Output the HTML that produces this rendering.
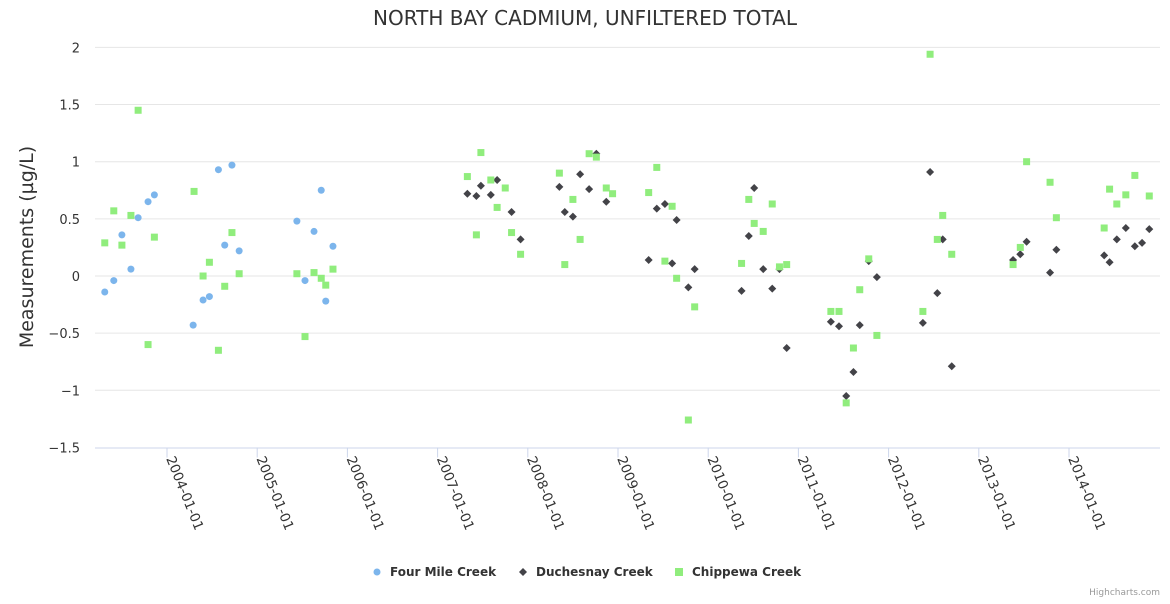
<!DOCTYPE html>
<html><head><meta charset="utf-8"><style>
body{margin:0;background:#fff;font-family:"DejaVu Sans",sans-serif}
svg text{font-family:"DejaVu Sans",sans-serif}
</style></head><body>
<svg id="c" width="1170" height="600">
<text x="585" y="25" text-anchor="middle" font-size="20" fill="#333">NORTH BAY CADMIUM, UNFILTERED TOTAL</text>
<text transform="translate(33,247) rotate(-90)" text-anchor="middle" font-size="19" fill="#333">Measurements (µg/L)</text>
<g id="grid"></g><g id="xax"></g><g id="marks"></g>
<g>
<g><circle cx="377" cy="572" r="3.5" fill="#7cb5ec"/><text x="390" y="576" font-size="12" font-weight="bold" fill="#333">Four Mile Creek</text></g>
<g><path d="M523 568 L527 572 L523 576 L519 572Z" fill="#434348"/><text x="536" y="576" font-size="12" font-weight="bold" fill="#333">Duchesnay Creek</text></g>
<g><rect x="675" y="568" width="8" height="8" fill="#90ed7d"/><text x="692" y="576" font-size="12" font-weight="bold" fill="#333">Chippewa Creek</text></g>
</g>
<text x="1160" y="595" text-anchor="end" font-size="9" fill="#999">Highcharts.com</text>
</svg>
<script>
const yTicks=[-1.5,-1,-0.5,0,0.5,1,1.5,2];
const yTickLabels=["−1.5","−1","−0.5","0","0.5","1","1.5","2"];
const xTicks=[2004,2005,2006,2007,2008,2009,2010,2011,2012,2013,2014];
const xTickLabels=["2004-01-01","2005-01-01","2006-01-01","2007-01-01","2008-01-01","2009-01-01","2010-01-01","2011-01-01","2012-01-01","2013-01-01","2014-01-01"];
const fourMileDates=[2003.31,2003.41,2003.50,2003.60,2003.68,2003.79,2003.86,2004.29,2004.40,2004.47,2004.57,2004.64,2004.72,2004.80,2005.44,2005.53,2005.63,2005.71,2005.76,2005.84];
const fourMileValues=[-0.14,-0.04,0.36,0.06,0.51,0.65,0.71,-0.43,-0.21,-0.18,0.93,0.27,0.97,0.22,0.48,-0.04,0.39,0.75,-0.22,0.26];
const duchDates=[2007.33,2007.43,2007.48,2007.59,2007.66,2007.82,2007.92,2008.35,2008.41,2008.50,2008.58,2008.68,2008.76,2008.87,2009.34,2009.43,2009.52,2009.60,2009.65,2009.78,2009.85,2010.37,2010.45,2010.51,2010.61,2010.71,2010.79,2010.87,2011.36,2011.45,2011.53,2011.61,2011.68,2011.78,2011.87,2012.38,2012.46,2012.54,2012.60,2012.70,2013.38,2013.46,2013.53,2013.79,2013.86,2014.39,2014.45,2014.53,2014.63,2014.73,2014.81,2014.89];
const duchValues=[0.72,0.70,0.79,0.71,0.84,0.56,0.32,0.78,0.56,0.52,0.89,0.76,1.07,0.65,0.14,0.59,0.63,0.11,0.49,-0.10,0.06,-0.13,0.35,0.77,0.06,-0.11,0.06,-0.63,-0.40,-0.44,-1.05,-0.84,-0.43,0.13,-0.01,-0.41,0.91,-0.15,0.32,-0.79,0.14,0.19,0.30,0.03,0.23,0.18,0.12,0.32,0.42,0.26,0.29,0.41];
const chipDates=[2003.31,2003.41,2003.50,2003.60,2003.68,2003.79,2003.86,2004.30,2004.40,2004.47,2004.57,2004.64,2004.72,2004.80,2005.44,2005.53,2005.63,2005.71,2005.76,2005.84,2007.33,2007.48,2007.43,2007.59,2007.75,2007.66,2007.82,2007.92,2008.35,2008.41,2008.50,2008.58,2008.68,2008.76,2008.87,2008.94,2009.43,2009.34,2009.52,2009.60,2009.65,2009.78,2009.85,2010.37,2010.45,2010.51,2010.61,2010.71,2010.79,2010.87,2011.36,2011.45,2011.53,2011.61,2011.68,2011.78,2011.87,2012.38,2012.46,2012.54,2012.60,2012.70,2013.38,2013.46,2013.53,2013.79,2013.86,2014.39,2014.45,2014.53,2014.63,2014.73,2014.89];
const chipValues=[0.29,0.57,0.27,0.53,1.45,-0.60,0.34,0.74,0.00,0.12,-0.65,-0.09,0.38,0.02,0.02,-0.53,0.03,-0.02,-0.08,0.06,0.87,1.08,0.36,0.84,0.77,0.60,0.38,0.19,0.90,0.10,0.67,0.32,1.07,1.04,0.77,0.72,0.95,0.73,0.13,0.61,-0.02,-1.26,-0.27,0.11,0.67,0.46,0.39,0.63,0.08,0.10,-0.31,-0.31,-1.11,-0.63,-0.12,0.15,-0.52,-0.31,1.94,0.32,0.53,0.19,0.10,0.25,1.00,0.82,0.51,0.42,0.76,0.63,0.71,0.88,0.70];
const NS="http://www.w3.org/2000/svg";
const X0=95,X1=1160;
function xS(yr){return 167+(yr-2004)*90.2;}
function yS(v){return 276-v*114.3;}
function mk(t,a,p){const e=document.createElementNS(NS,t);for(const k in a)e.setAttribute(k,a[k]);p.appendChild(e);return e;}
const grid=document.getElementById('grid'),xax=document.getElementById('xax'),marks=document.getElementById('marks');
yTicks.forEach((v,i)=>{
 if(v!==-1.5){const l=mk('line',{x1:X0,x2:X1,y1:yS(v),y2:yS(v),stroke:'#e6e6e6'},grid);
 
 }
 const t=mk('text',{x:80,y:yS(v)+5,'text-anchor':'end','font-size':13,fill:'#333'},grid);
 t.textContent=yTickLabels[i];
 
 
});
const ax=mk('line',{x1:X0,x2:X1,y1:yS(-1.5)+0.5,y2:yS(-1.5)+0.5,stroke:'#ccd6eb'},xax);


xTicks.forEach((yr,i)=>{
 const x=xS(yr);
 const tk=mk('line',{x1:x,x2:x,y1:yS(-1.5),y2:yS(-1.5)+10,stroke:'#ccd6eb'},xax);
 
 
 const t=mk('text',{transform:`translate(${x-1},${yS(-1.5)+11}) rotate(68)`,'font-size':13.5,fill:'#333'},xax);
 t.textContent=xTickLabels[i];
 
 
});
fourMileDates.forEach((d,i)=>{
 const c=mk('circle',{cx:xS(d),cy:yS(fourMileValues[i]),r:3.5,fill:'#7cb5ec'},marks);
 
 
});
duchDates.forEach((d,i)=>{
 const x=xS(d),y=yS(duchValues[i]);
 const p=mk('path',{d:`M${x} ${y-4}L${x+4} ${y}L${x} ${y+4}L${x-4} ${y}Z`,fill:'#434348'},marks);
 
 
});
chipDates.forEach((d,i)=>{
 const r=mk('rect',{x:xS(d)-3.5,y:yS(chipValues[i])-3.5,width:7,height:7,fill:'#90ed7d'},marks);
 
 
});
</script>
</body></html>
